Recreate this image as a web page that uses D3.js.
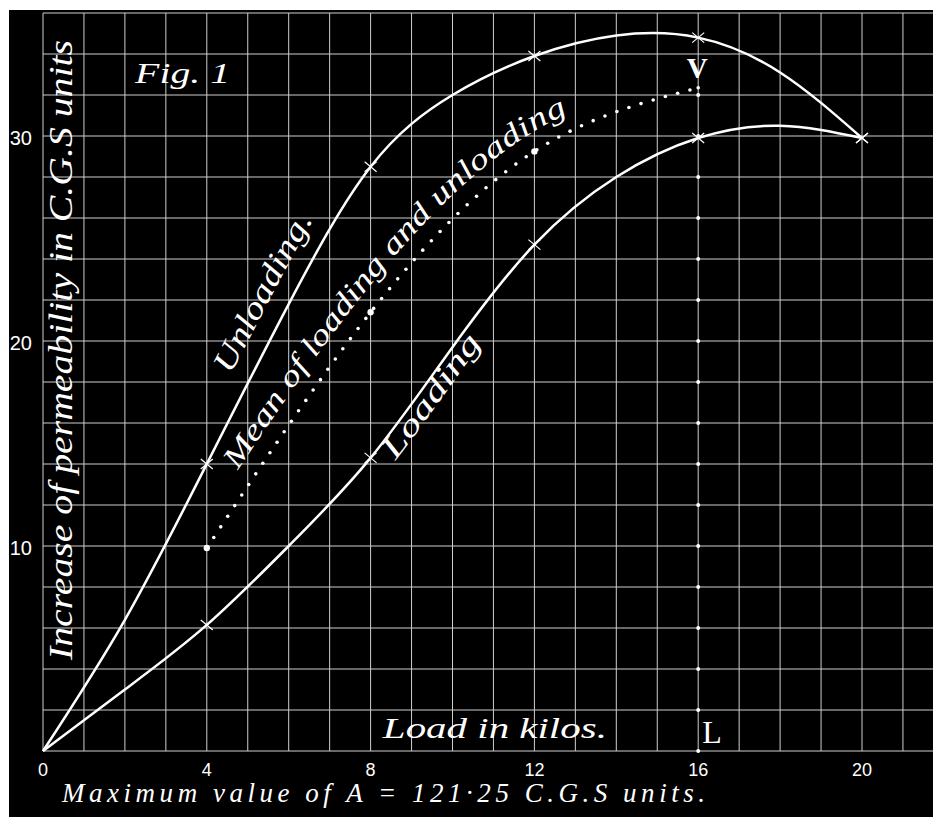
<!DOCTYPE html>
<html>
<head>
<meta charset="utf-8">
<script src="https://cdn.jsdelivr.net/npm/d3@7"></script>
<style>
  body { margin: 0; background: #fff; }
  text { fill: #fff; }
</style>
</head>
<body>
<script>
// values
const kilos = [0, 2, 4, 6, 8, 10, 12, 14, 16, 18, 20];
const loading = [0, 3.0, 6.15, 10.0, 14.3, 19.7, 24.7, 28.0, 29.9, 30.5, 29.9];
const unloading = [0, 6.4, 14.0, 21.8, 28.5, 32.0, 33.9, 34.9, 34.8, 33.1, 29.9];
const markedKilos = [4, 8, 12, 16, 20];
const meanKilos = [4, 8, 12, 16];
const meanValues = [9.9, 21.4, 29.25, 32.35];
const lineLKDots = [0, 2, 4, 6, 8, 10, 12, 14, 16, 18, 20, 22, 24, 26, 28, 30, 32];
const xTicks = [0, 4, 8, 12, 16, 20];
const yTicks = [10, 20, 30];

const width = 933, height = 817;
const x = d3.scaleLinear().domain([0, 20]).range([43, 862]);
const y = d3.scaleLinear().domain([0, 30]).range([751, 136]);

const svg = d3.select("body").append("svg")
  .attr("width", width).attr("height", height)
  .attr("xmlns", "http://www.w3.org/2000/svg");

svg.append("rect").attr("width", width).attr("height", height).attr("fill", "#fff");
svg.append("rect").attr("x", 9).attr("y", 10)
  .attr("width", width - 9).attr("height", height - 10).attr("fill", "#000");

// ruled grid: one kilo across, two units up
const grid = svg.append("g").attr("stroke", "#cfcfcf").attr("stroke-width", 1);
grid.selectAll(".gv").data(d3.range(0, 23)).enter().append("line")
  .attr("x1", d => x(d)).attr("x2", d => x(d))
  .attr("y1", y(36)).attr("y2", y(0));
grid.selectAll(".gh").data(d3.range(0, 37, 2)).enter().append("line")
  .attr("x1", x(0)).attr("x2", width)
  .attr("y1", d => y(d)).attr("y2", d => y(d));

// curves
const curve = d3.line().x(d => x(d[0])).y(d => y(d[1])).curve(d3.curveNatural);
const loadPath = svg.append("path").attr("id", "loadPath")
  .attr("d", curve(d3.zip(kilos, loading)))
  .attr("fill", "none").attr("stroke", "#fff").attr("stroke-width", 2.5);
const unloadPath = svg.append("path").attr("id", "unloadPath")
  .attr("d", curve(d3.zip(kilos, unloading)))
  .attr("fill", "none").attr("stroke", "#fff").attr("stroke-width", 2.5);
const meanPath = svg.append("path").attr("id", "meanPath")
  .attr("d", curve(d3.zip(meanKilos, meanValues)))
  .attr("fill", "none").attr("stroke", "none");

// crosses at the observed loads
const lookup = (arr, k) => arr[kilos.indexOf(k)];
const marks = [];
markedKilos.forEach(k => {
  marks.push([k, lookup(loading, k)]);
  marks.push([k, lookup(unloading, k)]);
});
const cross = svg.append("g").attr("stroke", "#fff").attr("stroke-width", 1.2);
cross.selectAll("path").data(marks).enter().append("path")
  .attr("d", d => {
    const cx = x(d[0]), cy = y(d[1]);
    return `M${cx - 6},${cy - 5}L${cx + 6},${cy + 5}M${cx - 6},${cy + 5}L${cx + 6},${cy - 5}`;
  });

// dotted mean line
const mNode = meanPath.node();
const mTotal = mNode.getTotalLength();
const dots = [];
for (let l = 12.7; l < mTotal - 4; l += 12.7) dots.push(mNode.getPointAtLength(l));
dots.push(mNode.getPointAtLength(mTotal));
svg.append("g").selectAll("circle").data(dots).enter().append("circle")
  .attr("cx", d => d.x).attr("cy", d => d.y).attr("r", 1.8).attr("fill", "#fff");
svg.append("g").selectAll("circle").data(d3.zip(meanKilos, meanValues).slice(0, 3)).enter()
  .append("circle")
  .attr("cx", d => x(d[0])).attr("cy", d => y(d[1])).attr("r", 3.2).attr("fill", "#fff");

// dotted ordinate L-V at 16 kilos
svg.append("g").selectAll("circle").data(lineLKDots).enter().append("circle")
  .attr("cx", x(16)).attr("cy", d => y(d)).attr("r", 2).attr("fill", "#fff");

// tick labels
svg.append("g").selectAll("text").data(xTicks).enter().append("text")
  .attr("x", d => x(d)).attr("y", y(0) + 25)
  .attr("text-anchor", "middle")
  .style("font", "18px 'Liberation Sans', sans-serif")
  .text(d => d);
svg.append("g").selectAll("text").data(yTicks).enter().append("text")
  .attr("x", 32).attr("y", d => y(d) + 8.5)
  .attr("text-anchor", "end")
  .style("font", "20px 'Liberation Sans', sans-serif")
  .text(d => d);

const script = "italic 30px 'Liberation Serif', serif";

// labels along the curves
function lengthAt(node, px) {
  let lo = 0, hi = node.getTotalLength();
  for (let k = 0; k < 40; k++) {
    const mid = (lo + hi) / 2;
    if (node.getPointAtLength(mid).x < px) lo = mid; else hi = mid;
  }
  return lo;
}
function curveLabel(pathSel, id, from, to, dy, size, label) {
  const node = pathSel.node();
  const a = lengthAt(node, x(from)), b = lengthAt(node, x(to));
  svg.append("text")
    .style("font", `italic ${size}px 'Liberation Serif', serif`)
    .append("textPath")
    .attr("href", "#" + id)
    .attr("startOffset", a)
    .attr("textLength", b - a)
    .attr("lengthAdjust", "spacingAndGlyphs")
    .append("tspan").attr("dy", dy)
    .text(label);
}
curveLabel(unloadPath, "unloadPath", 5.0, 7.0, -19, 32, "Unloading.");
curveLabel(meanPath, "meanPath", 5.1, 13.0, -17, 30, "Mean of loading and unloading");
curveLabel(loadPath, "loadPath", 8.2, 10.3, 21, 31, "Loading");

// titles
svg.append("text")
  .attr("x", x(2.25)).attr("y", y(32.6))
  .attr("textLength", 95).attr("lengthAdjust", "spacingAndGlyphs")
  .style("font", script).text("Fig. 1");

svg.append("text")
  .attr("transform", `translate(72,${y(0) - 91}) rotate(-90)`)
  .attr("textLength", 620).attr("lengthAdjust", "spacingAndGlyphs")
  .style("font", "italic 34px 'Liberation Serif', serif")
  .text("Increase of permeability in C.G.S units");

svg.append("text")
  .attr("x", x(8.3)).attr("y", y(0) - 13)
  .attr("textLength", 224).attr("lengthAdjust", "spacingAndGlyphs")
  .style("font", script).text("Load in kilos.");

svg.append("text")
  .attr("x", 62).attr("y", y(0) + 51)
  .attr("textLength", 643).attr("lengthAdjust", "spacing")
  .style("font", "italic 27px 'Liberation Serif', serif")
  .text("Maximum value of A = 121·25 C.G.S units.");

svg.append("text")
  .attr("x", x(16) - 1).attr("y", y(32.6) - 5)
  .attr("text-anchor", "middle")
  .style("font", "bold 29px 'Liberation Serif', serif")
  .text("V");
svg.append("text")
  .attr("x", x(16) + 4).attr("y", y(0) - 8)
  .style("font", "32px 'Liberation Serif', serif")
  .text("L");
</script>
</body>
</html>
